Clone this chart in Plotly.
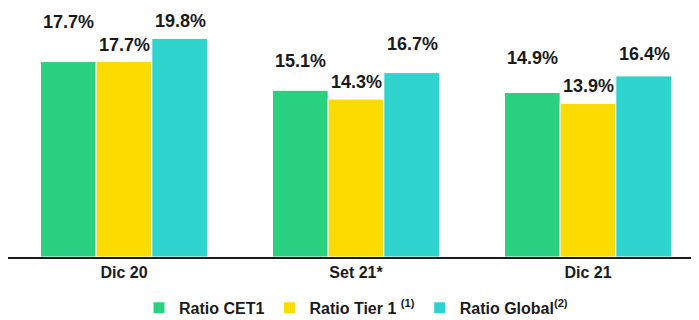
import plotly.graph_objects as go

categories = ["Dic 20", "Set 21*", "Dic 21"]
cet1 = [17.7, 15.1, 14.9]
tier1 = [17.7, 14.3, 13.9]
global_ratio = [19.8, 16.7, 16.4]

series_names = ["Ratio CET1", "Ratio Tier 1 <sup>(1)</sup>", "Ratio Global<sup>(2)</sup>"]
series_values = [cet1, tier1, global_ratio]
colors = ["#29D07F", "#FCDB00", "#2DD3CC"]

# style: horizontal label offset per series, vertical label lift per bar (px)
label_xshift = [-56, 0, 56]
label_yshift = [[40, 17, 17], [29, 17, 29], [34, 18, 22]]  # by category, then series

FONT = "Liberation Sans, Arial, sans-serif"

fig = go.Figure()
for name, vals, col in zip(series_names, series_values, colors):
    fig.add_trace(go.Bar(
        x=categories, y=vals, name=name,
        marker=dict(color=col, line=dict(color="white", width=1)),
        hoverinfo="skip",
    ))

annotations = []
for ci, cat in enumerate(categories):
    for si, vals in enumerate(series_values):
        annotations.append(dict(
            x=cat, y=vals[ci], xref="x", yref="y",
            text=f"<b>{vals[ci]:.1f}%</b>",
            showarrow=False, xshift=label_xshift[si], yshift=label_yshift[ci][si],
            yanchor="middle", xanchor="center",
            font=dict(family=FONT, size=18, color="#1a1a1a"),
        ))

fig.update_layout(
    width=699, height=320,
    margin=dict(l=0, r=3, t=2, b=71, autoexpand=False),
    paper_bgcolor="white", plot_bgcolor="white",
    barmode="group", bargap=0.28, bargroupgap=0,
    showlegend=True,
    legend=dict(orientation="h", x=0.5, xanchor="center", y=-0.206, yanchor="middle",
                font=dict(family=FONT, size=16, color="#1a1a1a", weight="bold"),
                itemwidth=30, traceorder="normal"),
    annotations=annotations,
    font=dict(family=FONT),
)
fig.update_xaxes(range=[-0.5, 2.5], showline=True, linecolor="#1a1a1a", linewidth=2,
                 showgrid=False, ticks="",
                 tickfont=dict(family=FONT, size=16, color="#1a1a1a", weight="bold"))
fig.update_yaxes(range=[0, 22.37], visible=False, showgrid=False, zeroline=False)

fig.write_html("out.html")
